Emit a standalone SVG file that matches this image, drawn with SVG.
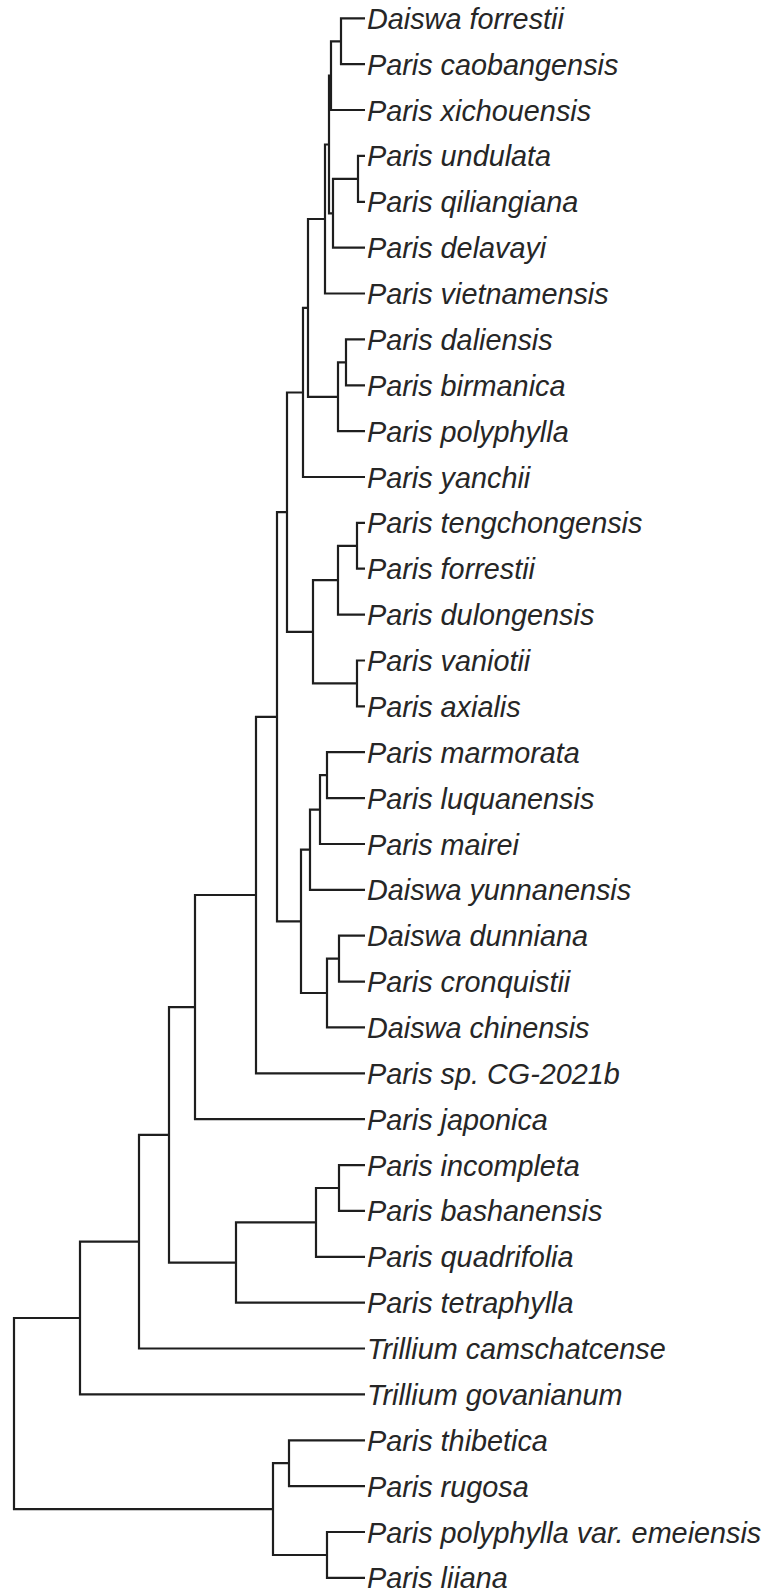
<svg xmlns="http://www.w3.org/2000/svg" width="767" height="1592" viewBox="0 0 767 1592">
<style>
.br{fill:none;stroke:#1e1e1e;stroke-width:2.2;stroke-linejoin:miter}
.tip text{font-family:"Liberation Sans",Arial,sans-serif;font-style:italic;font-size:28.8px;fill:#262626}
</style>
<rect width="767" height="1592" fill="#fff"/>
<g id="connectors">
<path class="br" d="M365 18.3H341V64.2H365"/>
<path class="br" d="M341 41.3H331V110H365"/>
<path class="br" d="M365 155.9H358V201.8H365"/>
<path class="br" d="M358 178.9H333V247.7H365"/>
<path class="br" d="M331 75.6H329V213.3H333"/>
<path class="br" d="M329 144.5H325V293.5H365"/>
<path class="br" d="M365 339.4H346V385.3H365"/>
<path class="br" d="M346 362.4H338V431.1H365"/>
<path class="br" d="M325 219H308V396.8H338"/>
<path class="br" d="M308 307.9H303V477H365"/>
<path class="br" d="M365 522.9H357V568.7H365"/>
<path class="br" d="M357 545.8H338V614.6H365"/>
<path class="br" d="M365 660.5H357V706.4H365"/>
<path class="br" d="M338 580.2H313V683.4H357"/>
<path class="br" d="M303 392.5H287V631.8H313"/>
<path class="br" d="M365 752.2H327V798.1H365"/>
<path class="br" d="M327 775.2H320V844H365"/>
<path class="br" d="M320 809.6H310V889.8H365"/>
<path class="br" d="M365 935.7H339V981.6H365"/>
<path class="br" d="M339 958.7H327V1027.4H365"/>
<path class="br" d="M310 849.7H301V993H327"/>
<path class="br" d="M287 512.1H277V921.4H301"/>
<path class="br" d="M277 716.8H256V1073.3H365"/>
<path class="br" d="M256 895H195V1119.2H365"/>
<path class="br" d="M365 1165.1H339V1210.9H365"/>
<path class="br" d="M339 1188H316V1256.8H365"/>
<path class="br" d="M316 1222.4H236V1302.7H365"/>
<path class="br" d="M195 1007.1H169V1262.6H236"/>
<path class="br" d="M169 1134.9H139V1348.5H365"/>
<path class="br" d="M139 1241.7H80V1394.4H365"/>
<path class="br" d="M365 1440.3H289V1486.1H365"/>
<path class="br" d="M365 1532H327V1577.9H365"/>
<path class="br" d="M289 1463.2H273V1555H327"/>
<path class="br" d="M80 1318H14V1509.1H273"/>
</g>
<g id="tip-daiswa-forrestii" class="tip"><text x="367" y="28.8">Daiswa forrestii</text></g>
<g id="tip-paris-caobangensis" class="tip"><text x="367" y="74.7">Paris caobangensis</text></g>
<g id="tip-paris-xichouensis" class="tip"><text x="367" y="120.5">Paris xichouensis</text></g>
<g id="tip-paris-undulata" class="tip"><text x="367" y="166.4">Paris undulata</text></g>
<g id="tip-paris-qiliangiana" class="tip"><text x="367" y="212.3">Paris qiliangiana</text></g>
<g id="tip-paris-delavayi" class="tip"><text x="367" y="258.2">Paris delavayi</text></g>
<g id="tip-paris-vietnamensis" class="tip"><text x="367" y="304">Paris vietnamensis</text></g>
<g id="tip-paris-daliensis" class="tip"><text x="367" y="349.9">Paris daliensis</text></g>
<g id="tip-paris-birmanica" class="tip"><text x="367" y="395.8">Paris birmanica</text></g>
<g id="tip-paris-polyphylla" class="tip"><text x="367" y="441.6">Paris polyphylla</text></g>
<g id="tip-paris-yanchii" class="tip"><text x="367" y="487.5">Paris yanchii</text></g>
<g id="tip-paris-tengchongensis" class="tip"><text x="367" y="533.4">Paris tengchongensis</text></g>
<g id="tip-paris-forrestii" class="tip"><text x="367" y="579.2">Paris forrestii</text></g>
<g id="tip-paris-dulongensis" class="tip"><text x="367" y="625.1">Paris dulongensis</text></g>
<g id="tip-paris-vaniotii" class="tip"><text x="367" y="671">Paris vaniotii</text></g>
<g id="tip-paris-axialis" class="tip"><text x="367" y="716.9">Paris axialis</text></g>
<g id="tip-paris-marmorata" class="tip"><text x="367" y="762.7">Paris marmorata</text></g>
<g id="tip-paris-luquanensis" class="tip"><text x="367" y="808.6">Paris luquanensis</text></g>
<g id="tip-paris-mairei" class="tip"><text x="367" y="854.5">Paris mairei</text></g>
<g id="tip-daiswa-yunnanensis" class="tip"><text x="367" y="900.3">Daiswa yunnanensis</text></g>
<g id="tip-daiswa-dunniana" class="tip"><text x="367" y="946.2">Daiswa dunniana</text></g>
<g id="tip-paris-cronquistii" class="tip"><text x="367" y="992.1">Paris cronquistii</text></g>
<g id="tip-daiswa-chinensis" class="tip"><text x="367" y="1037.9">Daiswa chinensis</text></g>
<g id="tip-paris-sp-cg-2021b" class="tip"><text x="367" y="1083.8">Paris sp. CG-2021b</text></g>
<g id="tip-paris-japonica" class="tip"><text x="367" y="1129.7">Paris japonica</text></g>
<g id="tip-paris-incompleta" class="tip"><text x="367" y="1175.6">Paris incompleta</text></g>
<g id="tip-paris-bashanensis" class="tip"><text x="367" y="1221.4">Paris bashanensis</text></g>
<g id="tip-paris-quadrifolia" class="tip"><text x="367" y="1267.3">Paris quadrifolia</text></g>
<g id="tip-paris-tetraphylla" class="tip"><text x="367" y="1313.2">Paris tetraphylla</text></g>
<g id="tip-trillium-camschatcense" class="tip"><text x="367" y="1359">Trillium camschatcense</text></g>
<g id="tip-trillium-govanianum" class="tip"><text x="367" y="1404.9">Trillium govanianum</text></g>
<g id="tip-paris-thibetica" class="tip"><text x="367" y="1450.8">Paris thibetica</text></g>
<g id="tip-paris-rugosa" class="tip"><text x="367" y="1496.6">Paris rugosa</text></g>
<g id="tip-paris-polyphylla-var-emeiensis" class="tip"><text x="367" y="1542.5">Paris polyphylla var. emeiensis</text></g>
<g id="tip-paris-liiana" class="tip"><text x="367" y="1588.4">Paris liiana</text></g>
</svg>
